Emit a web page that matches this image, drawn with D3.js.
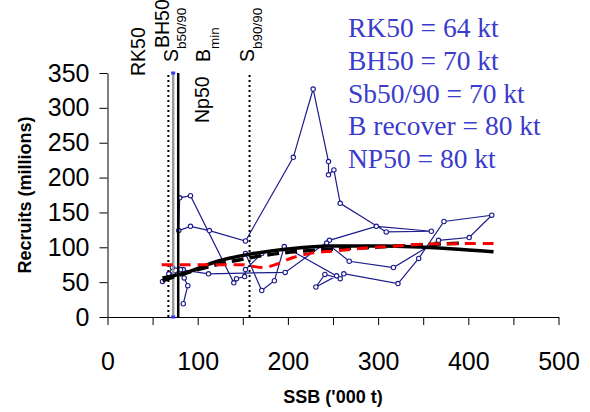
<!DOCTYPE html>
<meta charset="utf-8">
<style>
    body { margin: 0; background: #fff; }
    svg { display: block; }
    .axis .tick text {
        font-family: Arial, "Liberation Sans", sans-serif;
        font-size: 25px;
        fill: #000;
    }
    .axis path, .axis line { stroke: #000; stroke-width: 1px; }
    .axis-title {
        font-family: Arial, "Liberation Sans", sans-serif;
        font-size: 18px;
        font-weight: bold;
    }
    .ref-label {
        font-family: Arial, "Liberation Sans", sans-serif;
        font-size: 19.5px;
    }
    .note {
        font-family: "Times New Roman", "Liberation Serif", serif;
        font-size: 27.5px;
        fill: #3b3bcc;
    }
</style>
<svg width="590" height="412"></svg>
<script src="https://cdn.jsdelivr.net/npm/d3@7"></script>
<script>

    // stock-recruit pairs, connected in time order
    var ssb = [84, 89, 85, 84, 72, 68, 61, 73, 81, 112, 197, 246, 298, 359, 309, 258, 251, 245, 245, 228,
        206, 153, 113, 92, 79, 80, 92, 140, 143, 152, 153, 171, 153, 171, 185, 196, 254, 231, 241, 258,
        262, 322, 345, 373, 426, 401, 367, 317, 268, 243];
    var recruits = [19, 45, 56, 68, 71, 62, 51, 61, 68, 62, 64, 110, 130, 123, 122, 163, 211, 204, 223, 327,
        229, 109, 124, 130, 124, 171, 174, 49, 55, 58, 68, 91, 91, 38, 52, 101, 59, 43, 61, 55,
        62, 48, 84, 137, 146, 114, 110, 71, 80, 106];

    // fitted curves
    var fitSsb = [61, 85, 122, 155, 203, 247, 306, 380, 428];
    var fitRec = [56, 63, 80, 89.5, 98, 101.7, 101.7, 98, 93.6];
    var fit2Ssb = [61, 100, 158, 195, 247, 288, 340, 395];
    var fit2Rec = [52, 68, 85, 92, 97, 99.5, 103, 106];
    var segSsb = [60, 150, 160, 172, 188, 205, 228, 250, 292, 321, 343, 373, 428];
    var segRec = [75, 75, 73, 71, 76, 85, 92, 94.5, 99.5, 101.7, 104, 105, 105.5];

    // reference points ('000 t)
    var dottedRefs = [67.5, 157.5];
    var greyRef = 72.8;
    var solidRef = 78.4;

    var xTicks = [0, 50, 100, 150, 200, 250, 300, 350, 400, 450, 500];
    var yTicks = [0, 50, 100, 150, 200, 250, 300, 350];

    var notes = ["RK50 = 64 kt", "BH50 = 70 kt", "Sb50/90 = 70 kt", "B recover = 80 kt", "NP50 = 80 kt"];

    var refLabels = [
        {main: "RK50", sub: "", x: 145, y: 76},
        {main: "BH50", sub: "", x: 168.5, y: 48},
        {main: "S", sub: "b50/90", x: 177.5, y: 62},
        {main: "B", sub: "min", x: 210, y: 62},
        {main: "S", sub: "b90/90", x: 253.5, y: 62},
        {main: "Np50", sub: "", x: 208.5, y: 123}
    ];

    const BLUE = "#1c1c8c";
    const NOTE_X = 348;

    var svg = d3.select("svg");

    var x = d3.scaleLinear().domain([0, 500]).range([107.5, 558.5]);
    var y = d3.scaleLinear().domain([0, 350]).range([317, 73]);

    svg.append("g")
        .attr("class", "axis")
        .attr("transform", "translate(0," + y(0) + ")")
        .call(d3.axisBottom(x).tickValues(xTicks).tickSize(8).tickSizeOuter(0).tickPadding(27)
            .tickFormat(function (d) { return d % 100 === 0 ? d : ""; }));

    svg.append("g")
        .attr("class", "axis")
        .attr("transform", "translate(" + x(0) + ",0)")
        .call(d3.axisLeft(y).tickValues(yTicks).tickSize(8).tickSizeOuter(0).tickPadding(10));

    svg.append("text")
        .attr("class", "axis-title")
        .attr("x", 333).attr("y", 403)
        .attr("text-anchor", "middle")
        .text("SSB ('000 t)");

    svg.append("text")
        .attr("class", "axis-title")
        .attr("transform", "translate(31," + ((y(0) + y(350)) / 2) + ") rotate(-90)")
        .attr("text-anchor", "middle")
        .text("Recruits (millions)");

    // stock-recruit trajectory
    var pts = ssb.map(function (s, i) { return [s, recruits[i]]; });

    svg.append("path")
        .datum(pts)
        .attr("fill", "none")
        .attr("stroke", BLUE)
        .attr("stroke-width", 1.2)
        .attr("d", d3.line().x(function (d) { return x(d[0]); }).y(function (d) { return y(d[1]); }));

    svg.append("g").selectAll("circle")
        .data(pts)
        .enter().append("circle")
        .attr("cx", function (d) { return x(d[0]); })
        .attr("cy", function (d) { return y(d[1]); })
        .attr("r", 2.2)
        .attr("fill", "#fff")
        .attr("stroke", BLUE)
        .attr("stroke-width", 1.1);

    // reference lines
    svg.append("line")
        .attr("x1", x(greyRef)).attr("x2", x(greyRef))
        .attr("y1", y(0)).attr("y2", y(350))
        .attr("stroke", "#9a9a9a").attr("stroke-width", 2.5);
    [0, 350].forEach(function (v) {
        svg.append("rect")
            .attr("x", x(greyRef) - 2).attr("y", y(v) - 1.5)
            .attr("width", 4).attr("height", 3)
            .attr("fill", "#3333ff");
    });

    svg.append("g").selectAll("line")
        .data(dottedRefs)
        .enter().append("line")
        .attr("x1", function (d) { return x(d); })
        .attr("x2", function (d) { return x(d); })
        .attr("y1", y(0)).attr("y2", y(350))
        .attr("stroke", "#000").attr("stroke-width", 2)
        .attr("stroke-dasharray", "2,3");

    svg.append("line")
        .attr("x1", x(solidRef)).attr("x2", x(solidRef))
        .attr("y1", y(0)).attr("y2", y(350))
        .attr("stroke", "#000").attr("stroke-width", 2.5);

    // fits
    function curve(xs, ys) {
        return d3.line().curve(d3.curveMonotoneX)
            .x(function (d, i) { return x(xs[i]); })
            .y(function (d, i) { return y(ys[i]); })(xs);
    }

    svg.append("path")
        .attr("d", curve(fitSsb, fitRec))
        .attr("fill", "none").attr("stroke", "#000").attr("stroke-width", 3.5);

    svg.append("path")
        .attr("d", curve(fit2Ssb, fit2Rec))
        .attr("fill", "none").attr("stroke", "#000").attr("stroke-width", 3.5)
        .attr("stroke-dasharray", "12,6");

    svg.append("path")
        .attr("d", curve(segSsb, segRec))
        .attr("fill", "none").attr("stroke", "#ff0000").attr("stroke-width", 3)
        .attr("stroke-dasharray", "11,7");

    // labels of reference points
    var lab = svg.append("g").selectAll("text")
        .data(refLabels)
        .enter().append("text")
        .attr("class", "ref-label")
        .attr("transform", function (d) { return "translate(" + d.x + "," + d.y + ") rotate(-90)"; });
    lab.append("tspan").text(function (d) { return d.main; });
    lab.append("tspan")
        .attr("dy", 8.5)
        .attr("font-size", 13.5)
        .text(function (d) { return d.sub; });

    svg.append("g").selectAll("text")
        .data(notes)
        .enter().append("text")
        .attr("class", "note")
        .attr("x", NOTE_X)
        .attr("y", function (d, i) { return 37 + i * 32.8; })
        .text(function (d) { return d; });

</script>
